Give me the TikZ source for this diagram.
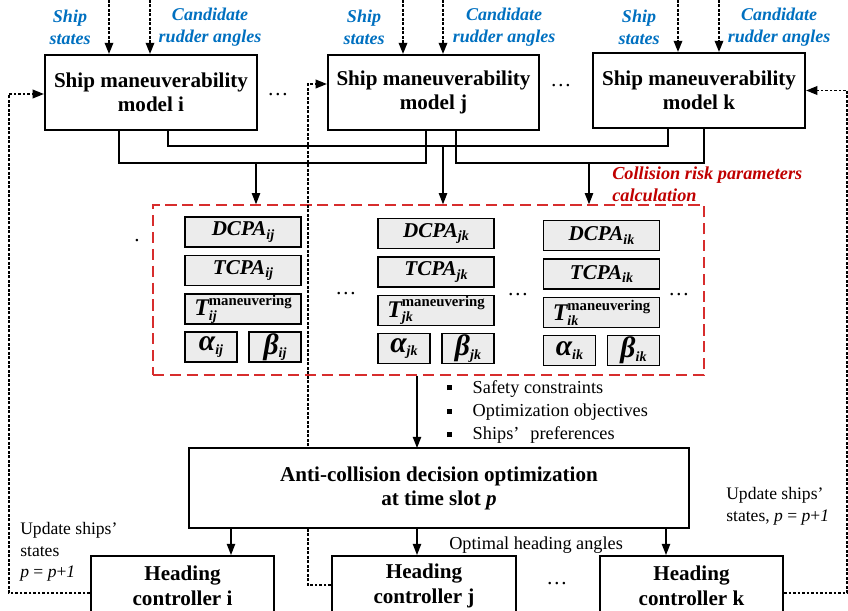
\documentclass[tikz,border=0pt]{standalone}
\usepackage{fontspec}
\setmainfont{Liberation Serif}
\usetikzlibrary{arrows.meta,calc}

\definecolor{inblue}{RGB}{0,112,192}
\definecolor{crpred}{RGB}{192,0,0}
\definecolor{dashred}{RGB}{215,45,45}

\newcommand\psub[1]{\raisebox{-2.5pt}{\fontsize{10}{10}\selectfont #1}}
\newcommand\sqbul{\rule[2pt]{3.6pt}{3.6pt}\hspace{14.5pt}}

\tikzset{
  model/.style={draw, line width=1.4pt, fill=white, align=center, inner sep=0pt,
    font=\fontsize{15}{17}\selectfont\bfseries},
  ctrl/.style={model, font=\fontsize{15}{18}\selectfont\bfseries, minimum height=1.5cm},
  param/.style={draw, line width=1pt, fill=gray!15, inner sep=0pt,
    minimum width=2.9cm, minimum height=0.75cm,
    font=\fontsize{15}{15}\selectfont\bfseries\itshape},
  greek/.style={param, minimum width=1.3cm,
    font=\fontsize{21}{21}\selectfont\bfseries\itshape},
  inlabel/.style={align=center, text=inblue,
    font=\fontsize{12.8}{15.6}\selectfont\bfseries\itshape},
  note/.style={align=left, inner sep=0pt, font=\fontsize{13}{16.7}\selectfont},
  link/.style={line width=1pt},
  feed/.style={line width=1.4pt, dash pattern=on 1.8pt off 1.4pt},
  etc/.style={font=\fontsize{15}{15}\selectfont}
}

\begin{document}
\begin{tikzpicture}[x=0.025cm, y=-0.025cm, >={Triangle[length=8pt,width=6pt]}]
\clip (0,0) rectangle (848,611);

% ship maneuverability models
\node[model, minimum width=5.3cm, minimum height=1.875cm] (mi) at (151,92.5) {Ship maneuverability\\model i};
\node[model, minimum width=5.275cm, minimum height=1.875cm] (mj) at (433.5,92.5) {Ship maneuverability\\model j};
\node[model, minimum width=5.3cm, minimum height=1.875cm] (mk) at (699,90.5) {Ship maneuverability\\model k};

% inputs
\foreach \m/\a/\b/\sx/\cx in {mi/109/150/70/210, mj/403/443/364/504, mk/678/719/639/779} {
    \draw[feed,->] (\a,0) -- (\a,0 |- \m.north);
    \draw[feed,->] (\b,0) -- (\b,0 |- \m.north);
    \node[inlabel] (s\m) at (\sx,27) {Ship\\states};
    \node[inlabel] (c\m) at (\cx,27) {Candidate\\rudder angles};
}

% model pairs
\draw[link] ($(mi.south west)+(75,0)$) -- ++(0,32) -| ($(mj.south west)+(99,0)$);
\draw[link] ($(mi.south west)+(124,0)$) -- ++(0,15) -| ($(mk.south west)+(76,0)$);
\draw[link] ($(mj.south west)+(129,0)$) -- ++(0,32) -| ($(mk.south west)+(112,0)$);

% collision risk parameters
\node[draw=dashred, line width=1pt, dash pattern=on 8pt off 4pt,
      minimum width=13.775cm, minimum height=4.25cm] (crp) at (428.5,290) {};
\node[anchor=west, align=left, text=crpred, inner sep=0pt,
      font=\fontsize{13}{15.6}\selectfont\bfseries\itshape] (crpl) at (612,184)
      {Collision risk parameters\\calculation};

\draw[link,->] (256,162) -- (256,162 |- crp.north);
\draw[link,->] (443,145) -- (443,145 |- crp.north);
\draw[link,->] (589,162) -- (589,162 |- crp.north);

\foreach \g/\x/\y in {ij/243/232, jk/436/233.5, ik/601.5/235.5} {
    \node[param] (dcpa\g) at (\x,\y) {DCPA\psub{\g}};
    \node[param] (tcpa\g) at (\x,\y+38.5) {TCPA\psub{\g}};
    \node[param] (tman\g) at (\x,\y+77)
        {{\fontsize{17}{17}\selectfont T}\rlap{\raisebox{-3pt}{\fontsize{10}{10}\selectfont \g}}\raisebox{7.5pt}{\fontsize{10.5}{10.5}\selectfont\upshape maneuvering}};
    \node[greek] (alpha\g) at (\x-32,\y+115) {α\psub{\g}};
    \node[greek] (beta\g) at (\x+32,\y+115) {β\psub{\g}};
}

\foreach \n/\x/\y in {d1/278/95, d2/561/86, d3/346/294, d4/518/295, d5/679/295, d6/557/584} {
    \node[etc] (\n) at (\x,\y) {\dots};
}
\node[etc] (d0) at (137,241) {.};

% heading controllers
\node[ctrl, minimum width=4.575cm] (hi) at (182.5,586) {Heading\\controller i};
\node[ctrl, minimum width=4.6cm] (hj) at (424,586) {Heading\\controller j};
\node[ctrl, minimum width=4.575cm] (hk) at (691.5,586) {Heading\\controller k};

% feedback
\draw[feed,->] ($(hi.west)+(0,7)$) -| ($(mi.west)+(-35,1.5)$) -- ($(mi.west)+(0,1.5)$);
\draw[feed,->] ($(hj.west)+(0,-1)$) -| ($(mj.west)+(-19,-8.5)$) -- ($(mj.west)+(0,-8.5)$);
\draw[feed,->] ($(hk.east)+(0,7)$) -| ($(mk.east)+(41,0)$) -- (mk.east);

% decision optimization
\draw[link,->] (417,0 |- crp.south) -- (417,448);
\node[note, anchor=west] (crit) at (447,412)
    {\sqbul Safety constraints\\ \sqbul Optimization objectives\\ \sqbul Ships’\hspace{0.6em}preferences};

\node[model, line width=1.1pt, minimum width=12.5cm, minimum height=2cm] (opt) at (439,488)
    {Anti-collision decision optimization\\at time slot \textit{p}};

\draw[link,->] (231,0 |- opt.south) -- (231,0 |- hi.north);
\draw[link,->] (417,0 |- opt.south) -- (417,0 |- hj.north);
\draw[link,->] (666,0 |- opt.south) -- (666,0 |- hk.north);
\node[note, anchor=west] (ohl) at (449,545) {Optimal heading angles};

\node[note, anchor=west, font=\fontsize{12.5}{15.4}\selectfont] (updl) at (20,552)
    {Update ships’\\states\\\textit{p} = \textit{p}+\textit{1}};
\node[note, anchor=west, font=\fontsize{12.5}{15.4}\selectfont] (updr) at (726,506)
    {Update ships’\\states, \textit{p} = \textit{p}+\textit{1}};
\end{tikzpicture}
\end{document}
